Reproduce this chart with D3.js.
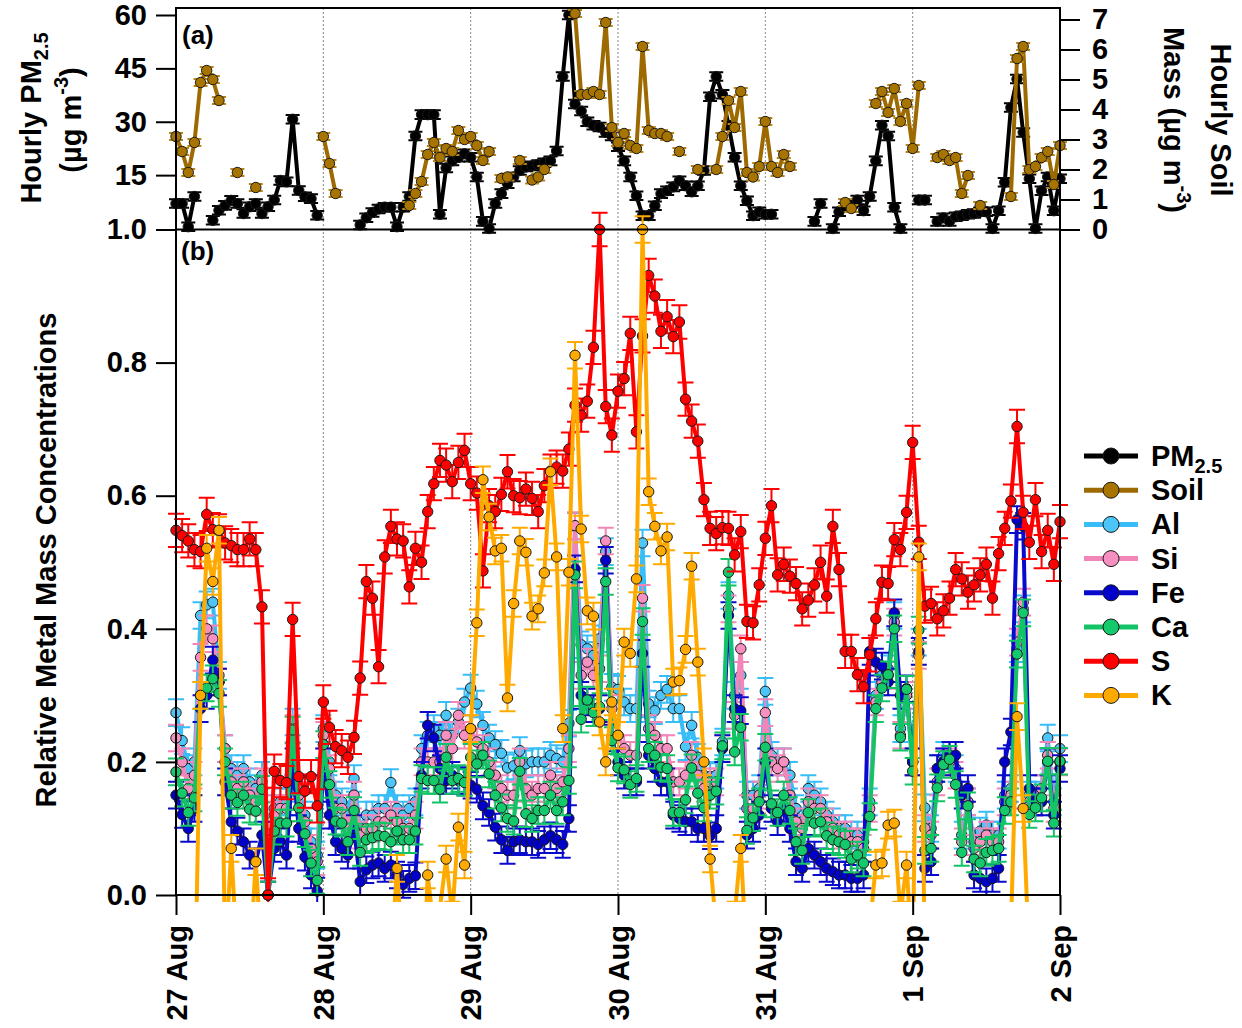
<!DOCTYPE html>
<html>
<head>
<meta charset="utf-8">
<script src="https://cdn.jsdelivr.net/npm/d3@7"></script>
<style>
  body { margin: 0; background: #fff; }
  svg { font-family: "Liberation Sans", Arial, sans-serif; font-weight: bold; }
</style>
</head>
<body>
<svg id="chart"></svg>
<script>
// hourly samples starting 27 Aug 00:00, index = hours since start
const startTime = new Date(Date.UTC(2016, 7, 27));
const dayLabels = ['27 Aug', '28 Aug', '29 Aug', '30 Aug', '31 Aug', '1 Sep', '2 Sep'];
const pmTicks = [15, 30, 45, 60];
const soilTicks = [0, 1, 2, 3, 4, 5, 6, 7];
const relTicks = [0, 0.2, 0.4, 0.6, 0.8, 1.0];
const legendNames = ['PM2.5', 'Soil', 'Al', 'Si', 'Fe', 'Ca', 'S', 'K'];

// panel (a) - ug/m3
const pm25 = [
  7, 7, 0.5, 9, null, null, 2.3, 5.1, 6.5, 7.9,
  7, 4.2, 6.1, 7, 4.2, 6.1, 8, 13.5, 13.1, 30.7,
  10.7, 8.9, 8.4, 3.7, null, null, null, null, null, null,
  1, 3, 4.5, 5.5, 6, 6, 0.5, 6, 9, 26,
  32, 32, 32, 4, 17, 19, 20, 21, 20, 14.5,
  2, 0, 7, 9.8, 12.6, 14.5, 16.3, 17.3, 17.6, 18,
  18.5, 19, 21.8, 42.7, 60, 35, 33, 30, 29, 28.5,
  27, 26, 23, 19, 14.5, 9.2, 3.6, 3.6, 6.4, 9.8,
  10.6, 11.7, 13.4, 12, 10.3, 12, 16.3, 37, 42.7, 37.7,
  29, 20, 12, 7.8, 3.6, 4.7, 4, 4, null, null,
  null, null, null, null, 2, 7, null, 0, 4.7, 6,
  7, 8, 5, 9, 19, 29, 26, 6, 0, null,
  null, 8, 8, null, 2, 3, 2, 3.3, 3.6, 4,
  4.2, 4.7, 4.7, 0, 5, 13, 34, 42, 27, 14,
  0, 10.6, 14.5, 5, 14
];
const soil = [
  3.1, 2.6, 1.9, 2.9, 4.9, 5.3, 5.0, 4.3, null, null,
  1.9, null, null, 1.4, null, null, null, null, null, null,
  null, null, null, null, 3.1, 2.2, 1.2, null, null, null,
  null, null, null, null, null, null, null, null, 0.8, 1.2,
  1.6, 2.5, 2.9, 2.4, 2.7, 2.6, 3.3, 3.0, 3.1, 2.8,
  2.3, 2.6, null, 1.7, 1.75, null, 2.3, null, 1.65, 1.75,
  2.0, null, null, null, null, 7.2, 4.5, 4.5, 4.6, 4.5,
  6.9, 3.4, 2.9, 3.2, 2.8, 2.7, 6.1, 3.3, 3.2, 3.2,
  3.1, null, 2.6, null, null, 2.0, null, null, 2.0, 3.1,
  4.3, 3.4, 4.6, 1.9, 1.75, 2.1, 3.6, 2.1, 1.9, 2.5,
  2.1, null, null, null, null, null, null, null, null, 0.9,
  0.7, null, null, null, 4.2, 4.6, 3.9, 4.7, 3.6, 4.2,
  2.7, 4.8, null, null, 2.4, 2.5, 2.3, 2.4, 1.2, 1.8,
  null, 0.8, null, null, null, null, 1.1, 5.7, 6.1, 2.0,
  2.1, 2.4, 2.6, 1.5, 2.8
];

// panel (b) - relative mass
const al = [
  0.274, 0.232, 0.19, 0.2, 0.42, 0.436, 0.44, 0.33, 0.22, 0.19,
  0.18, 0.19, 0.17, 0.16, 0.18, 0.0, 0.13, 0.14, 0.14, 0.26,
  0.16, 0.12, 0.08, 0.06, 0.25, 0.2, 0.15, 0.14, 0.12, 0.175,
  0.1, 0.12, 0.12, 0.13, 0.13, 0.169, 0.13, 0.12, 0.13, 0.14,
  0.22, 0.24, 0.25, 0.24, 0.27, 0.24, 0.26, 0.29, 0.311, 0.287,
  0.255, 0.236, 0.226, 0.213, 0.191, 0.194, 0.217, 0.197, 0.2, 0.2,
  0.2, 0.21, 0.205, 0.2, 0.258, 0.554, 0.376, 0.37, 0.36, 0.385,
  0.516, 0.312, 0.309, 0.29, 0.28, 0.28, 0.529, 0.287, 0.277, 0.3,
  0.309, 0.28, 0.28, 0.223, 0.255, 0.207, 0.18, 0.178, 0.18, 0.23,
  0.45, 0.3, 0.33, 0.15, 0.15, 0.16, 0.306, 0.21, 0.2, 0.2,
  0.18, 0.13, 0.11, 0.16, 0.15, 0.14, 0.12, 0.11, 0.1, 0.1,
  0.09, 0.09, 0.08, 0.14, 0.3, 0.33, 0.34, 0.42, 0.25, 0.3,
  0.2, 0.38, 0.131, 0.1, 0.19, 0.21, 0.21, 0.19, 0.09, 0.14,
  0.08, 0.096, 0.105, 0.09, 0.09, 0.15, 0.16, 0.37, 0.43, 0.15,
  0.15, 0.16, 0.236, 0.14, 0.22
];
const si = [
  0.236, 0.2, 0.16, 0.18, 0.357, 0.4, 0.385, 0.32, 0.22, 0.17,
  0.16, 0.17, 0.15, 0.14, 0.17, 0.0, 0.12, 0.13, 0.13, 0.25,
  0.15, 0.11, 0.07, 0.05, 0.24, 0.19, 0.13, 0.13, 0.1, 0.15,
  0.09, 0.1, 0.1, 0.11, 0.11, 0.12, 0.11, 0.1, 0.1, 0.12,
  0.2, 0.2, 0.2, 0.2, 0.24, 0.22, 0.27, 0.24, 0.25, 0.23,
  0.22, 0.2, 0.18, 0.16, 0.15, 0.15, 0.2, 0.16, 0.15, 0.16,
  0.16, 0.18, 0.16, 0.17, 0.22, 0.555, 0.33, 0.35, 0.33, 0.34,
  0.532, 0.28, 0.24, 0.22, 0.21, 0.21, 0.446, 0.25, 0.24, 0.22,
  0.22, 0.17, 0.17, 0.18, 0.21, 0.18, 0.16, 0.17, 0.17, 0.22,
  0.43, 0.27, 0.37, 0.13, 0.13, 0.15, 0.274, 0.2, 0.19, 0.2,
  0.15, 0.11, 0.1, 0.14, 0.13, 0.13, 0.11, 0.1, 0.09, 0.09,
  0.08, 0.08, 0.07, 0.13, 0.29, 0.32, 0.33, 0.41, 0.24, 0.3,
  0.2, 0.36, 0.1, 0.09, 0.17, 0.2, 0.2, 0.18, 0.08, 0.14,
  0.07, 0.08, 0.09, 0.08, 0.08, 0.14, 0.15, 0.38, 0.44, 0.14,
  0.14, 0.16, 0.21, 0.13, 0.2
];
const fe = [
  0.15, 0.121, 0.1, 0.13, 0.28, 0.3, 0.353, 0.32, 0.17, 0.11,
  0.096, 0.08, 0.06, 0.05, 0.09, 0.0, 0.07, 0.08, 0.06, 0.2,
  0.1, 0.057, 0.03, 0.006, 0.2, 0.12, 0.08, 0.07, 0.06, 0.1,
  0.02, 0.038, 0.045, 0.048, 0.04, 0.045, 0.03, 0.016, 0.025, 0.029,
  0.18, 0.255, 0.236, 0.19, 0.172, 0.18, 0.172, 0.17, 0.165, 0.159,
  0.134, 0.124, 0.102, 0.083, 0.067, 0.08, 0.083, 0.08, 0.08, 0.076,
  0.083, 0.089, 0.083, 0.076, 0.115, 0.49, 0.3, 0.29, 0.28, 0.28,
  0.503, 0.236, 0.2, 0.18, 0.17, 0.17, 0.363, 0.21, 0.19, 0.17,
  0.17, 0.12, 0.115, 0.11, 0.11, 0.1, 0.1, 0.089, 0.1, 0.22,
  0.42, 0.28, 0.277, 0.09, 0.1, 0.12, 0.2, 0.13, 0.11, 0.13,
  0.1, 0.05, 0.04, 0.07, 0.06, 0.05, 0.04, 0.035, 0.03, 0.03,
  0.025, 0.025, 0.03, 0.366, 0.35, 0.344, 0.32, 0.424, 0.3, 0.31,
  0.2, 0.366, 0.04, 0.05, 0.19, 0.2, 0.21, 0.21, 0.15, 0.16,
  0.03, 0.025, 0.02, 0.025, 0.04, 0.2, 0.245, 0.564, 0.554, 0.16,
  0.14, 0.14, 0.2, 0.12, 0.19
];
const ca = [
  0.185, 0.153, 0.124, 0.146, 0.300, 0.311, 0.325, 0.303, 0.200, 0.150,
  0.139, 0.150, 0.129, 0.126, 0.159, 0.000, 0.096, 0.108, 0.108, 0.248,
  0.131, 0.092, 0.048, 0.022, 0.226, 0.166, 0.111, 0.108, 0.080, 0.127,
  0.064, 0.083, 0.086, 0.089, 0.088, 0.080, 0.096, 0.083, 0.083, 0.096,
  0.175, 0.172, 0.172, 0.159, 0.207, 0.172, 0.175, 0.169, 0.207, 0.197,
  0.210, 0.182, 0.150, 0.131, 0.115, 0.111, 0.186, 0.122, 0.115, 0.127,
  0.127, 0.150, 0.127, 0.140, 0.172, 0.481, 0.264, 0.293, 0.274, 0.283,
  0.471, 0.232, 0.191, 0.188, 0.166, 0.175, 0.411, 0.220, 0.210, 0.192,
  0.190, 0.124, 0.124, 0.143, 0.191, 0.153, 0.131, 0.150, 0.156, 0.224,
  0.485, 0.215, 0.252, 0.097, 0.116, 0.140, 0.222, 0.137, 0.124, 0.150,
  0.127, 0.080, 0.067, 0.124, 0.108, 0.110, 0.089, 0.083, 0.080, 0.076,
  0.054, 0.060, 0.048, 0.118, 0.280, 0.311, 0.331, 0.400, 0.237, 0.309,
  0.186, 0.398, 0.067, 0.070, 0.161, 0.196, 0.204, 0.166, 0.064, 0.134,
  0.054, 0.048, 0.064, 0.067, 0.070, 0.127, 0.140, 0.362, 0.424, 0.121,
  0.131, 0.146, 0.201, 0.108, 0.201
];
const sulfur = [
  0.548, 0.54, 0.532, 0.519, 0.516, 0.572, 0.549, 0.547, 0.529, 0.525,
  0.519, 0.519, 0.535, 0.519, 0.433, 0.0, 0.186, 0.172, 0.169, 0.414,
  0.178, 0.156, 0.178, 0.134, 0.29, 0.252, 0.223, 0.217, 0.207, 0.237,
  0.326, 0.471, 0.446, 0.343, 0.508, 0.554, 0.535, 0.532, 0.463, 0.521,
  0.5, 0.576, 0.618, 0.653, 0.646, 0.621, 0.65, 0.668, 0.618, 0.604,
  0.487, 0.585, 0.576, 0.602, 0.636, 0.6, 0.597, 0.61, 0.596, 0.576,
  0.615, 0.637, 0.643, 0.637, 0.67, 0.736, 0.721, 0.742, 0.823, 1.0,
  0.734, 0.691, 0.757, 0.776, 0.844, 0.696, 0.84, 0.931, 0.9, 0.847,
  0.869, 0.839, 0.861, 0.745, 0.712, 0.682, 0.594, 0.551, 0.543, 0.552,
  0.551, 0.511, 0.546, 0.411, 0.409, 0.466, 0.536, 0.585, 0.481, 0.497,
  0.479, 0.468, 0.43, 0.443, 0.466, 0.5, 0.449, 0.554, 0.489, 0.366,
  0.366, 0.331, 0.313, 0.361, 0.415, 0.47, 0.468, 0.534, 0.519, 0.575,
  0.68, 0.53, 0.434, 0.438, 0.415, 0.427, 0.446, 0.489, 0.475, 0.455,
  0.466, 0.481, 0.497, 0.446, 0.513, 0.551, 0.592, 0.704, 0.575, 0.53,
  0.594, 0.516, 0.548, 0.497, 0.561
];
// K dips below zero a lot, those parts fall outside the plot
const potassium = [
  -0.2, -0.2, -0.2, -0.2, 0.3, 0.521, 0.471, 0.548, -0.1, 0.07,
  -0.1, -0.2, -0.1, 0.05, -0.1, -0.2, -0.2, -0.2, -0.2, -0.2,
  -0.2, -0.2, -0.2, -0.2, -0.2, -0.2, -0.2, -0.2, -0.2, -0.2,
  -0.2, -0.2, -0.2, -0.2, -0.2, -0.1, 0.04, -0.1, -0.2, -0.2,
  -0.2, 0.03, -0.05, -0.02, 0.054, -0.03, 0.102, 0.045, 0.25, 0.409,
  0.624, 0.568, 0.517, 0.521, 0.296, 0.438, 0.532, 0.515, 0.419, 0.43,
  0.484, 0.636, 0.508, 0.25, 0.485, 0.811, 0.55, 0.427, 0.419, 0.26,
  0.2, 0.29, 0.24, 0.38, 0.363, 0.475, 1.0, 0.606, 0.554, 0.517,
  0.538, 0.32, 0.322, 0.369, 0.494, 0.35, 0.2, 0.054, -0.05, -0.1,
  -0.05, -0.03, 0.07, -0.1, -0.2, -0.2, -0.2, -0.2, -0.2, -0.2,
  -0.2, -0.2, -0.2, -0.2, -0.2, -0.2, -0.2, -0.2, -0.2, -0.2,
  -0.2, -0.2, -0.2, -0.05, 0.045, 0.048, 0.105, 0.108, -0.03, 0.045,
  -0.1, 0.508, -0.1, -0.2, -0.2, -0.2, -0.2, -0.2, -0.2, -0.2,
  -0.2, -0.2, -0.2, -0.2, -0.2, -0.2, -0.05, 0.268, 0.13, -0.1,
  -0.2, -0.2, -0.2, -0.2, -0.2
];

// measurement uncertainty (half width of the error bars)
const pmErr = 1.2;
const soilErr = 0.12;
const metalErr = 0.02;
const sulfurErr = 0.025;

class metalChart {
  constructor(_config) {
    this.config = {
      parentElement: _config.parentElement,
      containerWidth: _config.containerWidth || 1242,
      containerHeight: _config.containerHeight || 1028,
      left: 176, right: 1060,
      topA: 8, bottomA: 229.5, bottomB: 895,
      fontSize: 29
    };
    this.initVis();
  }

  initVis() {
    let vis = this;
    const c = vis.config;

    vis.svg = d3.select(c.parentElement)
      .attr('width', c.containerWidth)
      .attr('height', c.containerHeight);

    vis.times = pm25.map((d, i) => d3.utcHour.offset(startTime, i));

    vis.xScale = d3.scaleUtc()
      .domain([startTime, d3.utcDay.offset(startTime, 6)])
      .range([c.left, c.right]);

    vis.pmScale = d3.scaleLinear().domain([0, 60]).range([228.5, 15]);
    vis.soilScale = d3.scaleLinear().domain([0, 7]).range([229.5, 19.5]);
    vis.relScale = d3.scaleLinear().domain([0, 1]).range([c.bottomB, c.bottomA]);

    // clip for the lower panel so negative K drops off the bottom
    vis.svg.append('defs').append('clipPath').attr('id', 'clipB')
      .append('rect')
      .attr('x', c.left - 12).attr('y', c.bottomA - 20)
      .attr('width', c.right - c.left + 24).attr('height', c.bottomB - c.bottomA + 27);

    vis.gridG = vis.svg.append('g');
    vis.panelA = vis.svg.append('g');
    vis.panelB = vis.svg.append('g').attr('clip-path', 'url(#clipB)');
    vis.axisG = vis.svg.append('g');
    vis.legendG = vis.svg.append('g');

    vis.updateVis();
  }

  updateVis() {
    let vis = this;

    vis.seriesA = [
      {values: pm25, scale: vis.pmScale, color: '#000000', fill: '#000000', errColor: '#000000', err: pmErr},
      {values: soil, scale: vis.soilScale, color: '#9c6a00', fill: '#a87400', errColor: '#b98418', err: soilErr}
    ];
    vis.seriesB = [
      {values: al, color: '#38bdf8', fill: '#4cc6f8', errColor: '#38bdf8', err: metalErr},
      {values: si, color: '#f286b8', fill: '#f590c0', errColor: '#f286b8', err: metalErr},
      {values: fe, color: '#0a0acc', fill: '#0000c8', errColor: '#0a0acc', err: metalErr},
      {values: ca, color: '#12c466', fill: '#14c86c', errColor: '#12c466', err: metalErr},
      {values: sulfur, color: '#ff0000', fill: '#ff0000', errColor: '#ff0000', err: sulfurErr},
      {values: potassium, color: '#ffaa00', fill: '#ffaa00', errColor: '#ffaa00', err: metalErr}
    ];
    vis.seriesB.forEach(s => s.scale = vis.relScale);

    vis.legendItems = legendNames.map((n, i) => {
      const s = i < 2 ? vis.seriesA[i] : vis.seriesB[i - 2];
      return {name: n, color: s.color, fill: s.fill};
    });

    vis.renderVis();
  }

  drawSeries(g, s, capW) {
    let vis = this;
    const pts = s.values.map((v, i) => ({t: vis.times[i], v: v}));
    const ok = pts.filter(d => d.v !== null);

    const line = d3.line()
      .defined(d => d.v !== null)
      .x(d => vis.xScale(d.t))
      .y(d => s.scale(d.v));

    g.append('path')
      .datum(pts)
      .attr('d', line)
      .attr('fill', 'none')
      .attr('stroke', s.color)
      .attr('stroke-width', 4)
      .attr('stroke-linejoin', 'round');

    // error bars with caps
    g.append('g').selectAll('path')
      .data(ok)
      .join('path')
      .attr('d', d => {
        const x = vis.xScale(d.t);
        const y1 = s.scale(d.v - s.err), y2 = s.scale(d.v + s.err);
        return `M${x},${y1}V${y2}M${x - capW},${y1}H${x + capW}M${x - capW},${y2}H${x + capW}`;
      })
      .attr('fill', 'none')
      .attr('stroke', s.errColor)
      .attr('stroke-width', 2);

    g.append('g').selectAll('circle')
      .data(ok)
      .join('circle')
      .attr('cx', d => vis.xScale(d.t))
      .attr('cy', d => s.scale(d.v))
      .attr('r', 5.2)
      .attr('fill', s.fill)
      .attr('stroke', '#1a1a1a')
      .attr('stroke-width', 1);
  }

  renderVis() {
    let vis = this;
    const c = vis.config;
    const fs = c.fontSize + 'px';

    // dotted day lines
    const innerDays = d3.utcDay.range(d3.utcDay.offset(startTime, 1), d3.utcDay.offset(startTime, 6));
    vis.gridG.selectAll('line')
      .data(innerDays)
      .join('line')
      .attr('x1', d => vis.xScale(d)).attr('x2', d => vis.xScale(d))
      .attr('y1', c.topA).attr('y2', c.bottomB)
      .attr('stroke', '#8a8a8a')
      .attr('stroke-width', 1)
      .attr('stroke-dasharray', '2,2');

    vis.seriesA.forEach(s => vis.drawSeries(vis.panelA.append('g'), s, 7));
    vis.seriesB.forEach(s => vis.drawSeries(vis.panelB.append('g'), s, 8));

    // axes
    const styleAxis = (g) => {
      g.select('.domain').remove();
      g.selectAll('.tick line').attr('stroke', '#000').attr('stroke-width', 2);
      g.selectAll('.tick text').attr('fill', '#000')
        .style('font-size', fs).style('font-weight', 'bold')
        .style('font-family', '"Liberation Sans", Arial, sans-serif');
    };

    vis.axisG.append('g')
      .attr('transform', `translate(${c.left},0)`)
      .call(d3.axisLeft(vis.pmScale).tickValues(pmTicks).tickSize(20).tickPadding(9))
      .call(styleAxis);

    vis.axisG.append('g')
      .attr('transform', `translate(${c.left},0)`)
      .call(d3.axisLeft(vis.relScale).tickValues(relTicks).tickFormat(d3.format('.1f')).tickSize(20).tickPadding(9))
      .call(styleAxis);

    vis.axisG.append('g')
      .attr('transform', `translate(${c.right},0)`)
      .call(d3.axisRight(vis.soilScale).tickValues(soilTicks).tickFormat(d3.format('d')).tickSize(20).tickPadding(12))
      .call(styleAxis);

    const dayTicks = d3.utcDay.range(startTime, d3.utcDay.offset(startTime, 7));
    vis.axisG.append('g')
      .attr('transform', `translate(0,${c.bottomB})`)
      .call(d3.axisBottom(vis.xScale).tickValues(dayTicks).tickFormat((d, i) => dayLabels[i]).tickSize(20))
      .call(styleAxis)
      .call(g => g.selectAll('.tick text')
        .attr('transform', 'rotate(-90)')
        .attr('x', -30).attr('y', 0).attr('dy', '0.35em')
        .style('text-anchor', 'end'));

    // frame
    const frame = [
      [c.left, c.topA, c.right, c.topA],
      [c.left, c.bottomA, c.right, c.bottomA],
      [c.left, c.bottomB, c.right, c.bottomB],
      [c.left, c.topA, c.left, c.bottomB],
      [c.right, c.topA, c.right, c.bottomB]
    ];
    vis.axisG.append('g').selectAll('line')
      .data(frame)
      .join('line')
      .attr('x1', d => d[0]).attr('y1', d => d[1])
      .attr('x2', d => d[2]).attr('y2', d => d[3])
      .attr('stroke', '#000')
      .attr('stroke-width', 2)
      .attr('stroke-linecap', 'square');

    // panel tags
    vis.axisG.append('text').attr('x', 182).attr('y', 44).style('font-size', '26px').text('(a)');
    vis.axisG.append('text').attr('x', 181).attr('y', 260).style('font-size', '26px').text('(b)');

    // axis titles
    const t1 = vis.axisG.append('text')
      .attr('transform', 'translate(41,118) rotate(-90)')
      .attr('text-anchor', 'middle').style('font-size', fs);
    t1.append('tspan').text('Hourly PM');
    t1.append('tspan').attr('dy', 7).style('font-size', '20px').text('2.5');

    const t2 = vis.axisG.append('text')
      .attr('transform', 'translate(81,120) rotate(-90)')
      .attr('text-anchor', 'middle').style('font-size', fs);
    t2.append('tspan').text('(µg m');
    t2.append('tspan').attr('dy', -13).style('font-size', '20px').text('-3');
    t2.append('tspan').attr('dy', 13).text(')');

    vis.axisG.append('text')
      .attr('transform', 'translate(1211,120) rotate(90)')
      .attr('text-anchor', 'middle').style('font-size', fs)
      .text('Hourly Soil');

    const t4 = vis.axisG.append('text')
      .attr('transform', 'translate(1164,120) rotate(90)')
      .attr('text-anchor', 'middle').style('font-size', fs);
    t4.append('tspan').text('Mass (µg m');
    t4.append('tspan').attr('dy', -13).style('font-size', '20px').text('-3');
    t4.append('tspan').attr('dy', 13).text(')');

    vis.axisG.append('text')
      .attr('transform', 'translate(56,560) rotate(-90)')
      .attr('text-anchor', 'middle').style('font-size', fs)
      .text('Relative Metal Mass Concentrations');

    // legend
    const rowY = i => 456 + i * 34.2;
    const rows = vis.legendG.selectAll('g')
      .data(vis.legendItems)
      .join('g')
      .attr('transform', (d, i) => `translate(0,${rowY(i)})`);

    rows.append('line')
      .attr('x1', 1084).attr('x2', 1138)
      .attr('stroke', d => d.color)
      .attr('stroke-width', 5);
    rows.append('circle')
      .attr('cx', 1111).attr('r', 8)
      .attr('fill', d => d.fill)
      .attr('stroke', '#1a1a1a').attr('stroke-width', 1);
    const lab = rows.append('text')
      .attr('x', 1151).attr('y', 10)
      .style('font-size', fs);
    lab.each(function(d) {
      const el = d3.select(this);
      if (d.name === 'PM2.5') {
        el.append('tspan').text('PM');
        el.append('tspan').attr('dy', 7).style('font-size', '20px').text('2.5');
      } else {
        el.text(d.name);
      }
    });
  }
}

new metalChart({parentElement: '#chart'});
</script>
</body>
</html>
